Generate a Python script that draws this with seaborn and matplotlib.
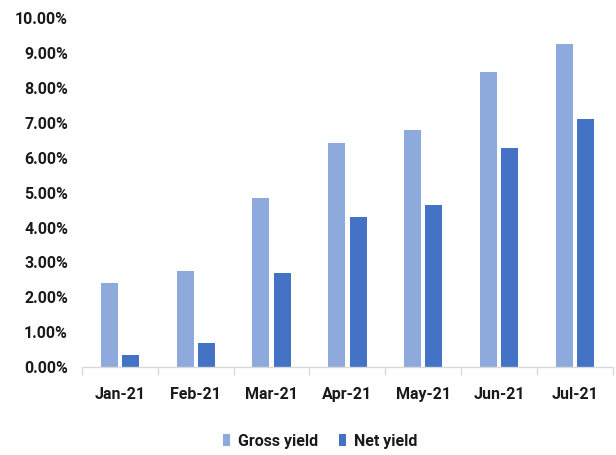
import matplotlib
matplotlib.use("Agg")
import matplotlib.pyplot as plt
import seaborn as sns
import pandas as pd
import numpy as np
from matplotlib.ticker import FuncFormatter, FixedLocator

months = ["Jan-21", "Feb-21", "Mar-21", "Apr-21", "May-21", "Jun-21", "Jul-21"]
gross_yield = [2.42, 2.75, 4.85, 6.43, 6.81, 8.46, 9.25]
net_yield = [0.34, 0.68, 2.69, 4.31, 4.64, 6.28, 7.10]
series_names = ["Gross yield", "Net yield"]
colors = ["#8EA9DB", "#4472C4"]

df = pd.DataFrame({
    "month": months * 2,
    "value": gross_yield + net_yield,
    "series": [series_names[0]] * len(months) + [series_names[1]] * len(months),
})

sns.set_style("white")
plt.rcParams["font.family"] = ["Roboto", "DejaVu Sans"]
plt.rcParams["font.weight"] = "bold"

fig = plt.figure(figsize=(6.16, 4.55), dpi=100)
ax = fig.add_axes([0.133, 0.193, 0.862, 0.767])

sns.barplot(data=df, x="month", y="value", hue="series", order=months,
            hue_order=series_names, palette=colors, width=0.56, gap=0.2,
            saturation=1, linewidth=0, ax=ax, legend=True)

ax.set_ylim(0, 10)
ax.set_xlim(-0.5, len(months) - 0.5)
ax.yaxis.set_major_locator(FixedLocator(np.arange(0, 10.01, 1)))
ax.yaxis.set_major_formatter(FuncFormatter(lambda v, p: f"{v:.2f}%"))
ax.set_xlabel("")
ax.set_ylabel("")

for s in ["top", "right", "left"]:
    ax.spines[s].set_visible(False)
ax.spines["bottom"].set_color("#D9D9D9")
ax.spines["bottom"].set_linewidth(1)

ax.tick_params(axis="y", length=0, labelsize=11.5, pad=10, labelcolor="#1a1a1a")
ax.tick_params(axis="x", which="major", bottom=False, length=0, labelsize=11.5, pad=14, labelcolor="#1a1a1a")
ax.set_xticks(np.arange(-0.5, len(months), 1), minor=True)
ax.tick_params(axis="x", which="minor", bottom=True, length=6, color="#D9D9D9", width=1, direction="out")
for lbl in ax.get_xticklabels() + ax.get_yticklabels():
    lbl.set_fontweight("bold")

leg = ax.legend(loc="upper center", bbox_to_anchor=(0.448, -0.15), ncol=2,
                frameon=False, fontsize=11.5, handlelength=0.45, handleheight=0.8,
                handletextpad=0.5, columnspacing=1.3)
for t in leg.get_texts():
    t.set_fontweight("bold")
    t.set_color("#1a1a1a")

fig.savefig("out.png", dpi=100)
